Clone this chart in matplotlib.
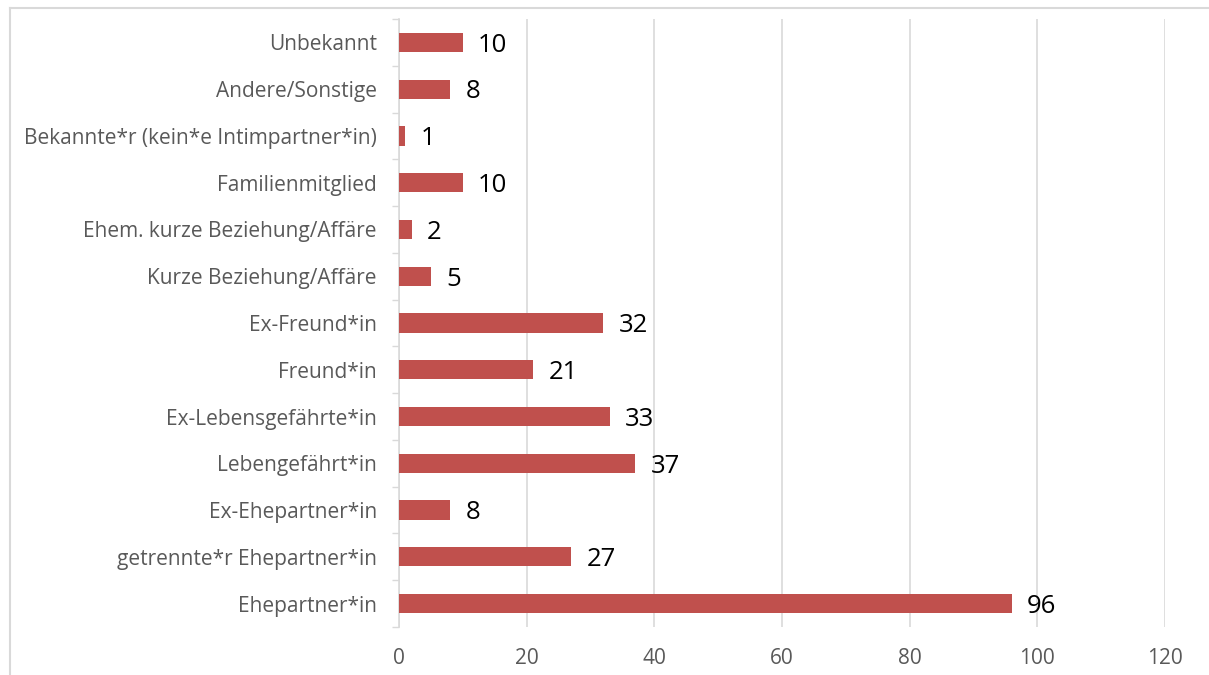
import matplotlib
matplotlib.use("Agg")
import matplotlib.pyplot as plt
from matplotlib.ticker import FixedLocator
from matplotlib.lines import Line2D

categories = [
    "Ehepartner*in",
    "getrennte*r Ehepartner*in",
    "Ex-Ehepartner*in",
    "Lebengefährt*in",
    "Ex-Lebensgefährte*in",
    "Freund*in",
    "Ex-Freund*in",
    "Kurze Beziehung/Affäre",
    "Ehem. kurze Beziehung/Affäre",
    "Familienmitglied",
    "Bekannte*r (kein*e Intimpartner*in)",
    "Andere/Sonstige",
    "Unbekannt",
]
values = [96, 27, 8, 37, 33, 21, 32, 5, 2, 10, 1, 8, 10]
xticks = [0, 20, 40, 60, 80, 100, 120]

plt.rcParams['font.family'] = ['Open Sans', 'DejaVu Sans']

fig = plt.figure(figsize=(12.09, 6.75), dpi=100)
ax = fig.add_axes([399/1209, 1 - 627/675, (1165 - 399)/1209, (627 - 19)/675])

pos = list(range(len(categories)))
ax.barh(pos, values, height=0.41, color="#C0504D", zorder=3)

for p, v in zip(pos, values):
    ax.annotate(str(v), xy=(v, p), xytext=(11, -2), textcoords="offset points",
                ha="left", va="center", fontsize=18.5, color="black", zorder=4)

ax.set_xlim(0, 120)
ax.set_ylim(-0.5, len(categories) - 0.5)
ax.set_xticks(xticks)
ax.set_xticklabels([str(t) for t in xticks])
ax.set_yticks(pos)
ax.set_yticklabels(categories)
ax.yaxis.set_minor_locator(FixedLocator([i - 0.5 for i in range(len(categories) + 1)]))

ax.tick_params(axis="x", length=0, pad=15, labelsize=15, labelcolor="#595959")
ax.tick_params(axis="y", which="major", length=0, pad=16, labelsize=15, labelcolor="#595959")
ax.tick_params(axis="y", which="minor", length=5, width=1, color="#d9d9d9")

ax.grid(axis="x", color="#d9d9d9", linewidth=1.2, zorder=0)
for s in ["top", "right", "bottom"]:
    ax.spines[s].set_visible(False)
ax.spines["left"].set_color("#d9d9d9")
ax.spines["left"].set_linewidth(1.2)

# chart area border (cropped)
fig.add_artist(Line2D([10/1209, 10/1209], [0, 1 - 8/675], transform=fig.transFigure,
                      color="#d9d9d9", linewidth=1.5))
fig.add_artist(Line2D([10/1209, 1], [1 - 8/675, 1 - 8/675], transform=fig.transFigure,
                      color="#d9d9d9", linewidth=1.5))

fig.savefig("out.png", dpi=100)
